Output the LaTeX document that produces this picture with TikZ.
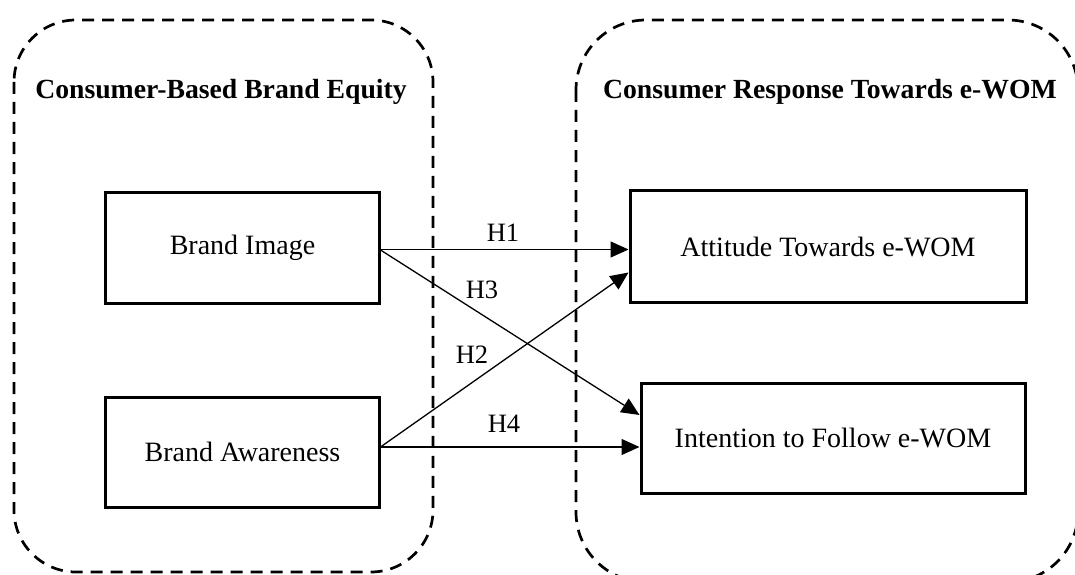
\documentclass[tikz,border=0pt]{standalone}
\usepackage{fontspec}
\setmainfont{Liberation Serif}
\usetikzlibrary{arrows.meta,calc}
\begin{document}
\begin{tikzpicture}[x=1bp,y=-1bp,
  grp/.style={draw, line width=2.7bp, dash pattern=on 12bp off 8bp},
  var/.style={draw, line width=3bp, inner sep=0pt, font=\fontsize{28bp}{33bp}\selectfont},
  ttl/.style={inner sep=0pt, anchor=base, font=\fontsize{27.7bp}{33bp}\selectfont\bfseries},
  hyp/.style={inner sep=0pt, anchor=base, font=\fontsize{26.5bp}{30bp}\selectfont},
  link/.style={line width=1.3bp, -{Triangle[length=18bp,width=16bp]}}]
\clip (0,0) rectangle (1075,575);
% group frames
\draw[grp, rounded corners=62bp] (14,20) rectangle (433,572);
\draw[grp, rounded corners=70bp] (576,20) rectangle (1078,582);
% titles
\node[ttl] (t1) at (221,99) {Consumer-Based Brand Equity};
\node[ttl] (t2) at (830,99) {Consumer Response Towards e-WOM};
% variables
\node[var, minimum width=273bp, minimum height=110bp] (bi) at (242.5,248) {Brand Image};
\node[var, minimum width=273bp, minimum height=110bp] (ba) at (242.5,452) {Brand Awareness};
\node[var, minimum width=396bp, minimum height=111bp] (at) at (828,246.5) {Attitude Towards e-WOM};
\node[var, minimum width=384bp, minimum height=110bp] (in) at (833,438) {Intention to Follow e-WOM};
% hypotheses
\draw[link] ($(bi.east)+(0,1.5)$) -- ($(at.west)+(0,3)$);
\draw[link] ($(bi.east)+(0,2)$) -- ($(in.west)+(0,-23)$);
\draw[link] ($(ba.east)+(0,-5)$) -- ($(at.west)+(0,26)$);
\draw[link] ($(ba.east)+(0,-5)$) -- ($(in.west)+(0,9)$);
% labels
\node[hyp] (h1) at (503,242) {H1};
\node[hyp] (h3) at (482,299) {H3};
\node[hyp] (h2) at (472,363) {H2};
\node[hyp] (h4) at (504,432) {H4};
\end{tikzpicture}
\end{document}
